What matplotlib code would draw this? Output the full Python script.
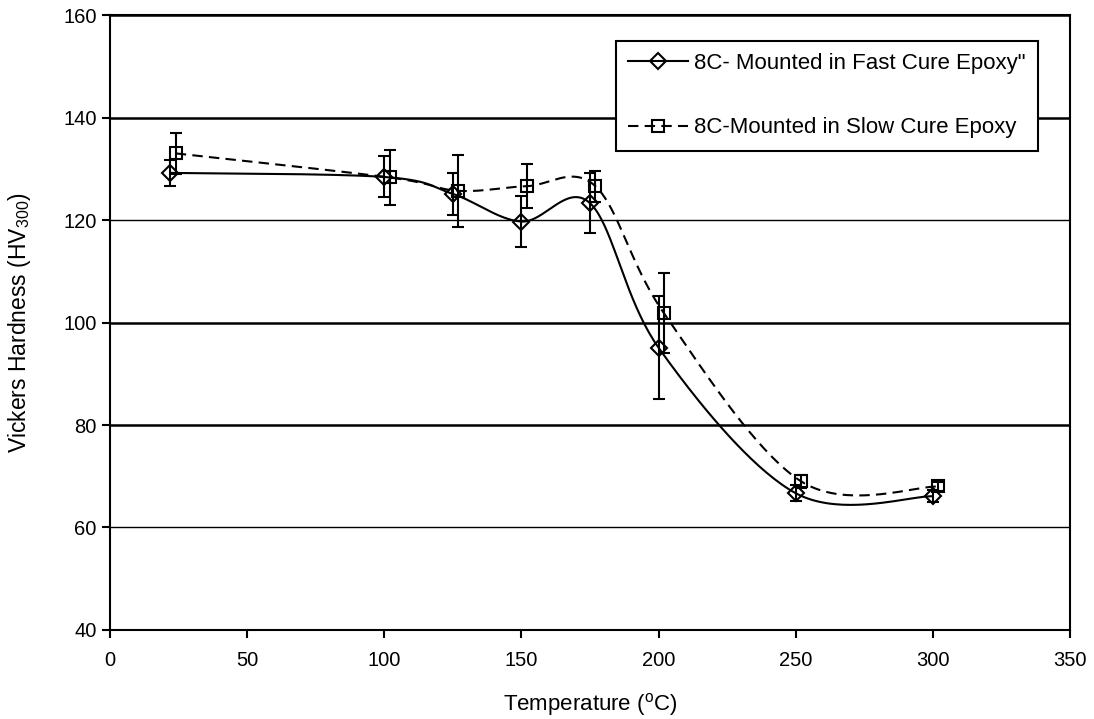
import numpy as np
import matplotlib
matplotlib.use("Agg")
import matplotlib.pyplot as plt

plt.rcParams['font.family'] = ['Liberation Sans', 'DejaVu Sans']
plt.rcParams['mathtext.fontset'] = 'custom'
plt.rcParams['mathtext.rm'] = 'Liberation Sans'
plt.rcParams['mathtext.it'] = 'Liberation Sans'

# ---- data ----
temp_fast = [22, 100, 125, 150, 175, 200, 250, 300]
hv_fast = [129.2, 128.4, 125.1, 119.7, 123.3, 95.1, 66.7, 66.1]
err_fast = [2.5, 4.0, 4.1, 4.9, 5.8, 10.0, 1.5, 1.2]

temp_slow = [24, 102, 127, 152, 177, 202, 252, 302]
hv_slow = [133.0, 128.3, 125.7, 126.6, 126.6, 101.8, 69.0, 68.0]
err_slow = [4.0, 5.3, 7.0, 4.3, 3.0, 7.8, 1.2, 0.8]

label_fast = '8C- Mounted in Fast Cure Epoxy"'
label_slow = "8C-Mounted in Slow Cure Epoxy"


def smooth(xs, ys, n=40):
    # Excel-style smoothed line: cubic Bezier through the points (Catmull-Rom tangents)
    P = np.column_stack([xs, ys]).astype(float)
    pts = []
    for i in range(len(P) - 1):
        p0 = P[max(i - 1, 0)]; p1 = P[i]; p2 = P[i + 1]; p3 = P[min(i + 2, len(P) - 1)]
        c1 = p1 + (p2 - p0) / 6.0
        c2 = p2 - (p3 - p1) / 6.0
        t = np.linspace(0, 1, n)[:, None]
        seg = (1 - t)**3 * p1 + 3 * (1 - t)**2 * t * c1 + 3 * (1 - t) * t**2 * c2 + t**3 * p2
        pts.append(seg if i == 0 else seg[1:])
    out = np.vstack(pts)
    return out[:, 0], out[:, 1]


fig = plt.figure(figsize=(10.94, 7.19), dpi=100)
ax = fig.add_axes([0.1005, 0.1238, 0.8775, 0.8553])

sx, sy = smooth(temp_fast, hv_fast)
ax.plot(sx, sy, color="black", lw=1.5, zorder=3)
sx2, sy2 = smooth(temp_slow, hv_slow)
ax.plot(sx2, sy2, color="black", lw=1.5, ls=(0, (5, 3)), zorder=3)

ax.errorbar(temp_fast, hv_fast, yerr=err_fast, fmt="none", ecolor="black",
            elinewidth=1.5, capsize=4.3, capthick=1.5, zorder=4)
ax.errorbar(temp_slow, hv_slow, yerr=err_slow, fmt="none", ecolor="black",
            elinewidth=1.5, capsize=4.3, capthick=1.5, zorder=4)
ax.plot(temp_fast, hv_fast, "D", ms=8.5, mfc="none", mec="black", mew=1.5, zorder=5)
ax.plot(temp_slow, hv_slow, "s", ms=8.5, mfc="none", mec="black", mew=1.5, zorder=5)

# legend handles
h1, = ax.plot([], [], color="black", lw=1.5, marker="D", ms=8.5, mfc="none", mec="black", mew=1.5)
h2, = ax.plot([], [], color="black", lw=1.5, ls=(0, (5, 3)), marker="s", ms=8.5, mfc="none",
              mec="black", mew=1.5)
leg = ax.legend([h1, h2], [label_fast, label_slow], loc="upper right",
                bbox_to_anchor=(0.967, 0.958), fontsize=16, frameon=True, fancybox=False,
                edgecolor="black", framealpha=1, handlelength=2.7, handletextpad=0.3,
                labelspacing=1.95, borderpad=0.55, borderaxespad=0)
leg.get_frame().set_linewidth(1.5)

ax.set_xlim(0, 350)
ax.set_ylim(40, 160)
ax.set_xticks(np.arange(0, 351, 50))
ax.set_yticks(np.arange(40, 161, 20))
ax.tick_params(labelsize=14.5, direction="out", length=6, width=1.5, color="black")
ax.tick_params(axis="x", pad=9)
ax.yaxis.grid(True, color="black")
for val, gl in zip(ax.get_yticks(), ax.get_ygridlines()):
    gl.set_linewidth(1.0 if val in (60, 120) else 1.8)
ax.set_axisbelow(True)
for s in ax.spines.values():
    s.set_linewidth(1.5)

ax.set_xlabel("Temperature ($^{\\mathrm{o}}$C)", fontsize=16)
ax.set_ylabel("Vickers Hardness (HV$_{\\mathrm{300}}$)", fontsize=16.5)
ax.xaxis.set_label_coords(0.5, -0.10)
ax.yaxis.set_label_coords(-0.080, 0.5)

fig.savefig("out.png", dpi=100)
